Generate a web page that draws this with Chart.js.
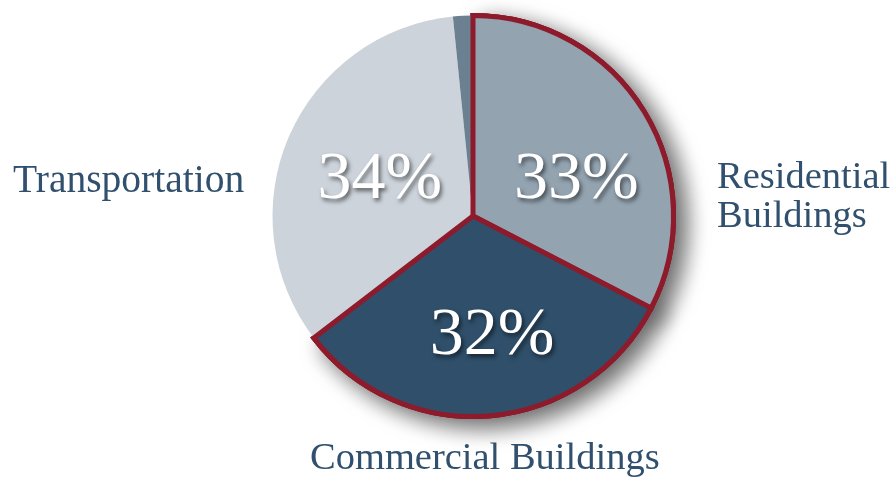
<!DOCTYPE html>
<html>
<head>
<meta charset="utf-8">
<script src="https://cdn.jsdelivr.net/npm/chart.js@4.4.1/dist/chart.umd.min.js"></script>
<style>
  html, body { margin: 0; padding: 0; background: #ffffff; }
  #wrap { position: relative; width: 892px; height: 482px; }
</style>
</head>
<body>
<div id="wrap"><canvas id="pieChart" width="892" height="482"></canvas></div>
<script>
// data
const categories = ['Residential Buildings', 'Commercial Buildings', 'Transportation', 'Other'];
const shares = [32.6, 32.0, 33.8, 1.6];
const shareLabels = ['33%', '32%', '34%', ''];

const sliceColors = ['#93a3b0', '#2f4f6a', '#ccd3da', '#6b8091'];
const outline = '#8e1b2b';
const textColor = '#30506e';
const outlined = [0, 1];

// soft drop shadow behind the two outlined slices
const shadowPlugin = {
    id: 'sliceShadow',
    beforeDatasetsDraw(chart) {
        const ctx = chart.ctx;
        const meta = chart.getDatasetMeta(0);
        ctx.save();
        ctx.shadowColor = 'rgba(0, 0, 0, 0.6)';
        ctx.shadowBlur = 22;
        ctx.shadowOffsetX = 10;
        ctx.shadowOffsetY = 8;
        outlined.forEach(i => meta.data[i].draw(ctx));
        ctx.restore();
    },
    afterDatasetsDraw(chart) {
        // redraw outlined slices on top so their red edges keep full width
        const meta = chart.getDatasetMeta(0);
        outlined.forEach(i => meta.data[i].draw(chart.ctx));
    }
};

// percentages inside the slices and names around the pie
const labelPlugin = {
    id: 'pieLabels',
    afterDatasetsDraw(chart) {
        const ctx = chart.ctx;
        const arc = chart.getDatasetMeta(0).data[0];
        const cx = arc.x, cy = arc.y, r = arc.outerRadius;
        const inner = [[0.515, -0.18], [0.095, 0.6], [-0.465, -0.18]];

        ctx.save();
        ctx.font = '68px "Liberation Serif", serif';
        ctx.textAlign = 'center';
        ctx.textBaseline = 'middle';
        ctx.fillStyle = '#ffffff';
        ctx.shadowColor = 'rgba(0, 0, 0, 0.55)';
        ctx.shadowBlur = 4;
        ctx.shadowOffsetX = 2;
        ctx.shadowOffsetY = 3;
        inner.forEach((p, i) => {
            ctx.fillText(shareLabels[i], cx + p[0] * r, cy + p[1] * r);
        });
        ctx.restore();

        ctx.save();
        ctx.fillStyle = textColor;
        ctx.textAlign = 'left';
        ctx.textBaseline = 'alphabetic';
        ctx.font = '39.5px "Liberation Serif", serif';
        ctx.fillText('Transportation', 13, 192);
        ctx.font = '38.5px "Liberation Serif", serif';
        ctx.fillText('Residential', 717, 188);
        ctx.fillText('Buildings', 717, 227);
        ctx.fillText('Commercial Buildings', 310, 469);
        ctx.restore();
    }
};

new Chart(document.getElementById('pieChart'), {
    type: 'pie',
    data: {
        labels: categories,
        datasets: [{
            data: shares,
            backgroundColor: sliceColors,
            borderColor: [outline, outline, 'rgba(0,0,0,0)', 'rgba(0,0,0,0)'],
            borderWidth: [5, 5, 0, 0],
            borderJoinStyle: 'miter'
        }]
    },
    options: {
        responsive: false,
        animation: false,
        layout: {
            padding: { left: 270, right: 216, top: 11, bottom: 61 }
        },
        plugins: {
            legend: { display: false },
            tooltip: { enabled: false }
        }
    },
    plugins: [shadowPlugin, labelPlugin]
});
</script>
</body>
</html>
